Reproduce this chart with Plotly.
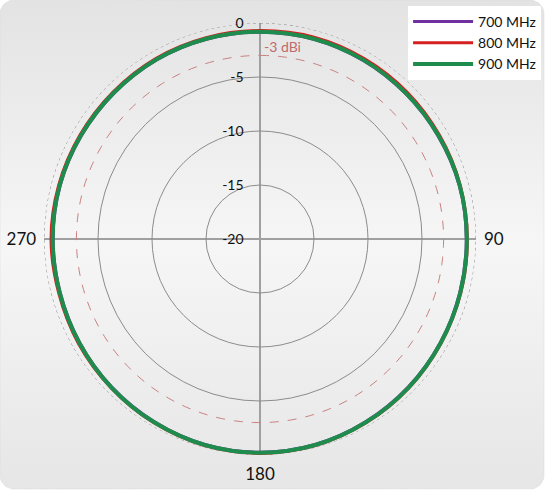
import math
import plotly.graph_objects as go

# ---- data ----
angles = [0, 15, 30, 45, 60, 75, 90, 105, 120, 135, 150, 165,
          180, 195, 210, 225, 240, 255, 270, 285, 300, 315, 330, 345, 360]
gain_700 = [-0.85, -0.85, -0.9, -0.95, -0.95, -0.9, -0.9, -0.85, -0.75, -0.6, -0.45, -0.3,
            -0.25, -0.3, -0.45, -0.6, -0.75, -0.85, -0.85, -0.85, -0.9, -0.9, -0.85, -0.85, -0.85]
gain_800 = [-0.7, -0.65, -0.7, -0.75, -0.8, -0.8, -0.8, -0.75, -0.65, -0.5, -0.35, -0.2,
            -0.15, -0.2, -0.35, -0.5, -0.6, -0.7, -0.65, -0.7, -0.75, -0.75, -0.7, -0.7, -0.7]
gain_900 = [-0.8, -0.8, -0.85, -0.9, -0.9, -0.85, -0.85, -0.8, -0.7, -0.55, -0.4, -0.25,
            -0.2, -0.25, -0.4, -0.55, -0.7, -0.8, -0.8, -0.8, -0.85, -0.85, -0.8, -0.8, -0.8]
series_names = ["700 MHz", "800 MHz", "900 MHz"]
series_colors = ["#7030a0", "#d42020", "#1e8c4c"]
radial_ticks = [-20, -15, -10, -5, 0]
radial_labels = ["-20", "-15", "-10", "-5", "0"]
angular_ticks = [0, 90, 180, 270]
angular_labels = ["", "90", "180", "270"]
ref_level = -3
ref_label = "-3 dBi"
full_circle = list(range(0, 361, 2))

W, H = 546, 491
FONT = "Lato"

fig = go.Figure()

# background rounded panel with vertical gradient (cartesian layer, hidden axes)
rad = 14
x0, x1, y0, y1 = 0, 544, 2, 491
px, py = [], []
corners = [(x1 - rad, y1 - rad, 0, 90), (x0 + rad, y1 - rad, 90, 180),
           (x0 + rad, y0 + rad, 180, 270), (x1 - rad, y0 + rad, 270, 360)]
for cx, cy, a0, a1 in corners:
    for a in range(a0, a1 + 1, 10):
        px.append(cx + rad * math.cos(math.radians(a)))
        py.append(cy + rad * math.sin(math.radians(a)))
px.append(px[0]); py.append(py[0])
fig.add_trace(go.Scatter(
    x=px, y=py, mode="lines", fill="toself", line=dict(width=0.5, color="#d8d8d8"),
    fillgradient=dict(type="vertical",
                      colorscale=[[0, "#e6e6e6"], [0.5, "#f6f6f6"], [1, "#e3e3e3"]]),
    hoverinfo="skip", showlegend=False, xaxis="x", yaxis="y"))

# outer 0 dB dotted circle
fig.add_trace(go.Scatterpolar(
    r=[radial_ticks[-1]] * len(full_circle), theta=full_circle, mode="lines",
    line=dict(color="#8a8a8a", width=1, dash="dot"), showlegend=False, hoverinfo="skip"))
# -3 dBi reference circle
fig.add_trace(go.Scatterpolar(
    r=[ref_level] * len(full_circle), theta=full_circle, mode="lines",
    line=dict(color="#c98080", width=1, dash="dash"), showlegend=False, hoverinfo="skip"))

for name, vals, col, w in zip(series_names, [gain_700, gain_800, gain_900], series_colors, [3, 3, 4]):
    fig.add_trace(go.Scatterpolar(
        r=vals, theta=angles, mode="lines", name=name,
        line=dict(color=col, width=w, shape="spline"), hoverinfo="skip"))

fig.add_annotation(text=ref_label, xref="paper", yref="paper",
                   x=262 / W, y=1 - 46 / H, xanchor="left", yanchor="middle",
                   showarrow=False, font=dict(family=FONT, size=14, color="#c06a6a"))

fig.update_layout(
    width=W, height=H,
    margin=dict(l=0, r=0, t=0, b=0, autoexpand=False),
    paper_bgcolor="white",
    plot_bgcolor="rgba(0,0,0,0)",
    font=dict(family=FONT, size=13, color="#111"),
    xaxis=dict(domain=[0, 1], range=[0, W], visible=False, fixedrange=True),
    yaxis=dict(domain=[0, 1], range=[0, H], visible=False, fixedrange=True),
    polar=dict(
        domain=dict(x=[44 / W, 476 / W], y=[36 / H, 468 / H]),
        bgcolor="rgba(0,0,0,0)",
        radialaxis=dict(range=[-20, 0], tickvals=radial_ticks, ticktext=radial_labels,
                        angle=90, tickangle=90,
                        side="counterclockwise", showline=False,
                        ticks="outside", ticklen=11, tickcolor="rgba(0,0,0,0)",
                        gridcolor="#8c8c8c", gridwidth=1,
                        tickfont=dict(family=FONT, size=14, color="#111")),
        angularaxis=dict(rotation=90, direction="clockwise",
                         tickvals=angular_ticks, ticktext=angular_labels,
                         showline=False, gridcolor="#a0a0a0", gridwidth=2,
                         ticks="outside", ticklen=4, tickcolor="rgba(0,0,0,0)",
                         tickfont=dict(family=FONT, size=17, color="#111")),
    ),
    legend=dict(x=0.991, y=0.988, xanchor="right", yanchor="top",
                bgcolor="white", font=dict(family=FONT, size=14, color="#111"),
                itemwidth=60, tracegroupgap=0),
    showlegend=True,
)

fig.write_html("out.html", config={"displayModeBar": False},
               post_script="document.body.style.margin='0';document.body.style.overflow='hidden';")
